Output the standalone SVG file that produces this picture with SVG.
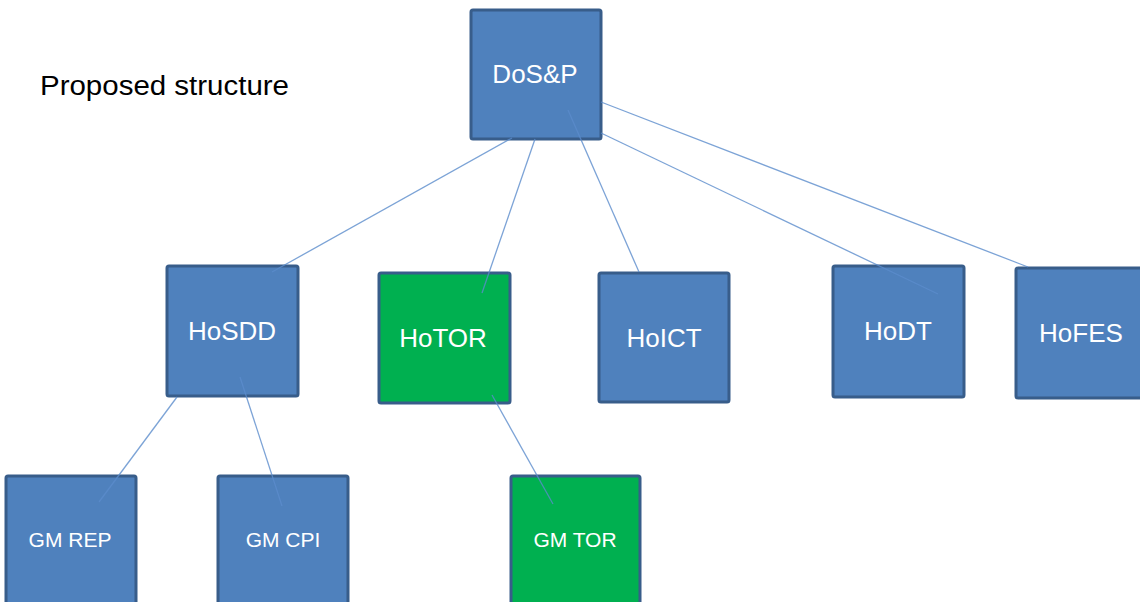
<svg xmlns="http://www.w3.org/2000/svg" width="1140" height="602" viewBox="0 0 1140 602">
  <style>
    .box { fill: #4f81bd; stroke: #385d8a; stroke-width: 3; }
    .green { fill: #00b050; }
    .lbl { font-family: "Liberation Sans", Arial, sans-serif; fill: #ffffff; text-anchor: middle; }
    .big { font-size: 26px; }
    .small { font-size: 21px; }
    .link { stroke: #5b8ccc; stroke-opacity: 0.8; stroke-width: 1.3; fill: none; }
  </style>
  <rect width="1140" height="602" fill="#ffffff"/>

  <text x="40" y="95" font-family="Liberation Sans, Arial, sans-serif" font-size="27" fill="#000000" textLength="249" lengthAdjust="spacingAndGlyphs">Proposed structure</text>

  <g id="DoSP">
    <rect class="box" x="471" y="10" width="130" height="129" rx="2"/>
    <text class="lbl big" x="535" y="83">DoS&amp;P</text>
  </g>
  <g id="HoSDD">
    <rect class="box" x="167" y="266" width="131" height="130" rx="2"/>
    <text class="lbl big" x="232" y="340">HoSDD</text>
  </g>
  <g id="HoTOR">
    <rect class="box green" x="379" y="273" width="131" height="130" rx="2"/>
    <text class="lbl big" x="443" y="347">HoTOR</text>
  </g>
  <g id="HoICT">
    <rect class="box" x="599" y="273" width="130" height="129" rx="2"/>
    <text class="lbl big" x="664" y="347">HoICT</text>
  </g>
  <g id="HoDT">
    <rect class="box" x="833" y="266" width="131" height="131" rx="2"/>
    <text class="lbl big" x="898" y="340">HoDT</text>
  </g>
  <g id="HoFES">
    <rect class="box" x="1016" y="268" width="140" height="130" rx="2"/>
    <text class="lbl big" x="1081" y="342">HoFES</text>
  </g>
  <g id="GMREP">
    <rect class="box" x="6" y="476" width="130" height="140" rx="2"/>
    <text class="lbl small" x="70" y="547">GM REP</text>
  </g>
  <g id="GMCPI">
    <rect class="box" x="218" y="476" width="130" height="140" rx="2"/>
    <text class="lbl small" x="283" y="547">GM CPI</text>
  </g>
  <g id="GMTOR">
    <rect class="box green" x="511" y="476" width="129" height="140" rx="2"/>
    <text class="lbl small" x="575" y="547">GM TOR</text>
  </g>

  <g id="connectors">
    <line class="link" x1="512" y1="138" x2="272" y2="272"/>
    <line class="link" x1="535" y1="139" x2="482" y2="293"/>
    <line class="link" x1="568" y1="110" x2="639" y2="272"/>
    <line class="link" x1="601" y1="133" x2="938" y2="294"/>
    <line class="link" x1="601" y1="102" x2="1028" y2="267"/>
    <line class="link" x1="177" y1="397" x2="99" y2="502"/>
    <line class="link" x1="240" y1="377" x2="282" y2="506"/>
    <line class="link" x1="492" y1="395" x2="553" y2="504"/>
  </g>
</svg>
